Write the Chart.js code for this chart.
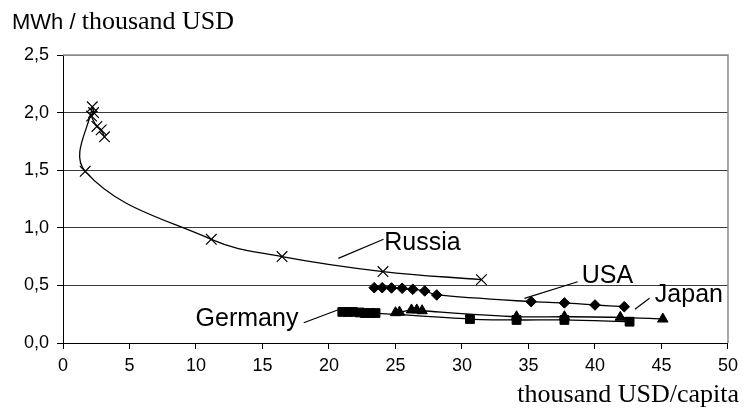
<!DOCTYPE html>
<html>
<head>
<meta charset="utf-8">
<script src="https://cdn.jsdelivr.net/npm/chart.js@4.4.1/dist/chart.umd.min.js"></script>
<style>
  html, body { margin: 0; background: #fff; }
  #wrap { width: 744px; height: 416px; }
</style>
</head>
<body>
<div id="wrap"><canvas id="myChart" width="744" height="416"></canvas></div>
<script>
// values (x: thousand USD/capita, y: MWh / thousand USD)
const russiaX  = [3.12, 2.87, 2.55, 2.15, 2.3, 2.2, 1.67, 11.15, 16.47, 24.06, 31.46];
const russiaY  = [1.79, 1.85, 1.88, 1.97, 2.0, 2.05, 1.49, 0.90, 0.75, 0.62, 0.55];
const usaX     = [23.4, 24.0, 24.7, 25.5, 26.3, 27.2, 28.1, 35.2, 37.7, 40.0, 42.2];
const usaY     = [0.48, 0.48, 0.478, 0.475, 0.466, 0.452, 0.417, 0.359, 0.348, 0.33, 0.315];
const germanyX = [21.0, 21.4, 21.8, 22.3, 22.7, 23.1, 23.5, 30.6, 34.1, 37.7, 42.6];
const germanyY = [0.27, 0.27, 0.27, 0.265, 0.26, 0.26, 0.26, 0.208, 0.2, 0.2, 0.185];
const japanX   = [25.0, 25.3, 26.2, 26.6, 27.0, 34.1, 37.7, 41.9, 45.1];
const japanY   = [0.263, 0.268, 0.287, 0.287, 0.28, 0.228, 0.228, 0.223, 0.208];

const xTickLabels = ['0', '5', '10', '15', '20', '25', '30', '35', '40', '45', '50'];
const yTickLabels = ['0,0', '0,5', '1,0', '1,5', '2,0', '2,5'];

// country labels with leader lines, in data units
const seriesLabels = [
  { text: 'Russia',  from: [20.7, 0.735], to: [24.1, 0.90],  at: [24.15, 0.81], align: 'left' },
  { text: 'USA',     from: [34.7, 0.388], to: [38.7, 0.532], at: [39.0, 0.52],  align: 'left' },
  { text: 'Japan',   from: [43.0, 0.293], to: [44.1, 0.388], at: [44.5, 0.36],  align: 'left' },
  { text: 'Germany', from: [18.1, 0.176], to: [20.8, 0.293], at: [17.7, 0.15],  align: 'right' }
];

function pts(xs, ys) {
  return xs.map((x, i) => ({ x: x, y: ys[i] }));
}

const sans = '"Liberation Sans", Arial, sans-serif';
const serif = '"Liberation Serif", "Times New Roman", serif';

const extras = {
  id: 'extras',
  beforeDatasetsDraw(chart) {
    const c = chart.ctx, a = chart.chartArea;
    c.save();
    c.strokeStyle = '#8a8a8a';
    c.lineWidth = 1.5;
    c.beginPath();
    c.moveTo(a.left, a.top);
    c.lineTo(a.right, a.top);
    c.lineTo(a.right, a.bottom);
    c.stroke();
    c.restore();
  },
  afterDraw(chart) {
    const c = chart.ctx;
    const sx = chart.scales.x, sy = chart.scales.y;
    c.save();
    c.fillStyle = '#000';
    c.strokeStyle = '#000';
    c.lineWidth = 1.2;
    c.textBaseline = 'alphabetic';
    seriesLabels.forEach(l => {
      c.beginPath();
      c.moveTo(sx.getPixelForValue(l.from[0]), sy.getPixelForValue(l.from[1]));
      c.lineTo(sx.getPixelForValue(l.to[0]), sy.getPixelForValue(l.to[1]));
      c.stroke();
      c.font = '25px ' + sans;
      c.textAlign = l.align;
      c.fillText(l.text, sx.getPixelForValue(l.at[0]), sy.getPixelForValue(l.at[1]));
    });

    // axis titles
    c.textAlign = 'left';
    c.font = '22px ' + sans;
    c.fillText('MWh /', 12, 29);
    const w = c.measureText('MWh / ').width;
    c.font = '26px ' + serif;
    c.fillText('thousand USD', 12 + w, 29);

    c.textAlign = 'right';
    c.fillText('thousand USD/capita', 739, 402);
    c.restore();
  }
};

const ctx = document.getElementById('myChart');

new Chart(ctx, {
  type: 'scatter',
  data: {
    datasets: [
      {
        label: 'Russia',
        data: pts(russiaX, russiaY),
        showLine: true,
        tension: 0.4,
        borderColor: '#000',
        borderWidth: 1.3,
        pointStyle: 'crossRot',
        pointRadius: 7.5,
        pointBorderWidth: 1.2,
        pointBorderColor: '#000',
        pointBackgroundColor: '#000'
      },
      {
        label: 'USA',
        data: pts(usaX, usaY),
        showLine: true,
        tension: 0.3,
        borderColor: '#000',
        borderWidth: 1.3,
        pointStyle: 'rectRot',
        pointRadius: 5.3,
        pointBorderWidth: 1,
        pointBorderColor: '#000',
        pointBackgroundColor: '#000'
      },
      {
        label: 'Germany',
        data: pts(germanyX, germanyY),
        showLine: true,
        tension: 0.3,
        borderColor: '#000',
        borderWidth: 1.3,
        pointStyle: 'rect',
        pointRadius: 6.2,
        pointBorderWidth: 1,
        pointBorderColor: '#000',
        pointBackgroundColor: '#000'
      },
      {
        label: 'Japan',
        data: pts(japanX, japanY),
        showLine: true,
        tension: 0.3,
        borderColor: '#000',
        borderWidth: 1.3,
        pointStyle: 'triangle',
        pointRadius: 6,
        pointBorderWidth: 1,
        pointBorderColor: '#000',
        pointBackgroundColor: '#000'
      }
    ]
  },
  options: {
    responsive: false,
    animation: false,
    layout: { padding: { top: 55, right: 14, left: 0, bottom: 0 } },
    plugins: {
      legend: { display: false },
      tooltip: { enabled: false }
    },
    scales: {
      x: {
        type: 'linear',
        min: 0,
        max: 50,
        afterBuildTicks: s => { s.ticks = xTickLabels.map(t => ({ value: Number(t) })); },
        afterFit: s => { s.height = 73; },
        ticks: {
          color: '#000',
          font: { family: sans, size: 18 },
          padding: 6,
          maxRotation: 0,
          callback: (v, i) => xTickLabels[i]
        },
        grid: { drawOnChartArea: false, tickLength: 6, tickColor: '#000', tickWidth: 1 },
        border: { color: '#000', width: 1 }
      },
      y: {
        type: 'linear',
        min: 0,
        max: 2.5,
        afterBuildTicks: s => { s.ticks = yTickLabels.map((t, i) => ({ value: i * 0.5 })); },
        afterFit: s => { s.width = 63; },
        ticks: {
          color: '#000',
          font: { family: sans, size: 18 },
          padding: 8,
          callback: (v, i) => yTickLabels[i]
        },
        grid: {
          color: c => (c.tick && c.tick.value === 2.5) ? '#8a8a8a' : '#3a3a3a',
          lineWidth: 1,
          tickLength: 6,
          tickColor: '#000'
        },
        border: { color: '#000', width: 1 }
      }
    }
  },
  plugins: [extras]
});
</script>
</body>
</html>
